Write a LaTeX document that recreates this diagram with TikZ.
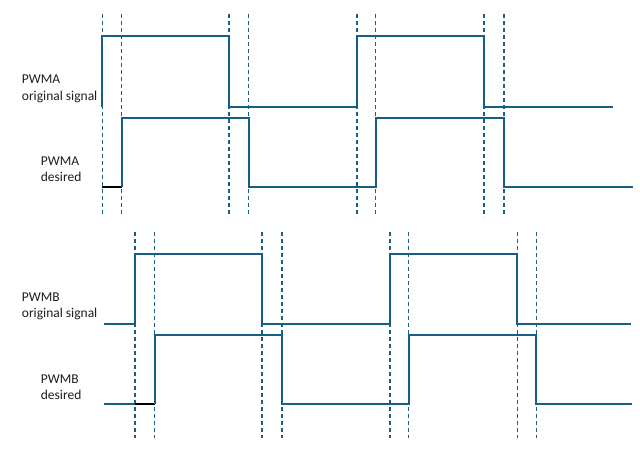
\documentclass[tikz,border=0pt]{standalone}
\usepackage{fontspec}
\setmainfont{Carlito}
\begin{document}
\begin{tikzpicture}[x=1pt,y=-1pt,
  sig/.style={draw=sigc,line width=1.8pt,line join=miter},
  blk/.style={draw=black,line width=1.8pt},
  guide/.style={draw=sigc,line width=1.1pt,dash pattern=on 4pt off 3pt},
  lbl/.style={anchor=base west,inner sep=0pt,font=\fontsize{13.5}{16}\selectfont,text=black!88}]
\definecolor{sigc}{HTML}{156082}
\useasboundingbox (0,0) rectangle (640,452);
\fill[white] (0,0) rectangle (640,452);
% guides top
\foreach \x in {102.3,121.7,229,248.7,357,375.7,484,504}
  \draw[guide] (\x,14) -- (\x,217);
% guides bottom
\foreach \x in {135,154.7,262,282,390,408.7,517.3,536.3}
  \draw[guide] (\x,232.3) -- (\x,438);
% PWMA original
\draw[sig] (102.3,106.7) -- (102.3,36) -- (229,36) -- (229,106.7) -- (357,106.7) -- (357,36) -- (484,36) -- (484,106.7) -- (613,106.7);
% PWMA desired
\draw[blk] (102.3,186.7) -- (121.7,186.7);
\draw[sig] (121.7,186.7) -- (121.7,117.7) -- (248.7,117.7) -- (248.7,186.7) -- (375.7,186.7) -- (375.7,117.7) -- (504,117.7) -- (504,186.7) -- (632.7,186.7);
% PWMB original
\draw[sig] (104.3,323.7) -- (135,323.7) -- (135,253.7) -- (262,253.7) -- (262,323.7) -- (390,323.7) -- (390,253.7) -- (517.3,253.7) -- (517.3,323.7) -- (631,323.7);
% PWMB desired
\draw[sig] (104.3,404.3) -- (135,404.3);
\draw[blk] (135,404.3) -- (154.7,404.3);
\draw[sig] (154.7,404.3) -- (154.7,335.3) -- (282,335.3) -- (282,404.3) -- (408.7,404.3) -- (408.7,335.3) -- (536.3,335.3) -- (536.3,404.3) -- (631.7,404.3);
% labels
\node[lbl] (la1) at (21.7,84) {PWMA};
\node[lbl] (la2) at (21.7,100) {original signal};
\node[lbl] (lb1) at (40.7,165.7) {PWMA};
\node[lbl] (lb2) at (40.7,181.7) {desired};
\node[lbl] (lc1) at (21.7,301) {PWMB};
\node[lbl] (lc2) at (21.7,317) {original signal};
\node[lbl] (ld1) at (40.7,383.3) {PWMB};
\node[lbl] (ld2) at (40.7,399.3) {desired};
\end{tikzpicture}
\end{document}
